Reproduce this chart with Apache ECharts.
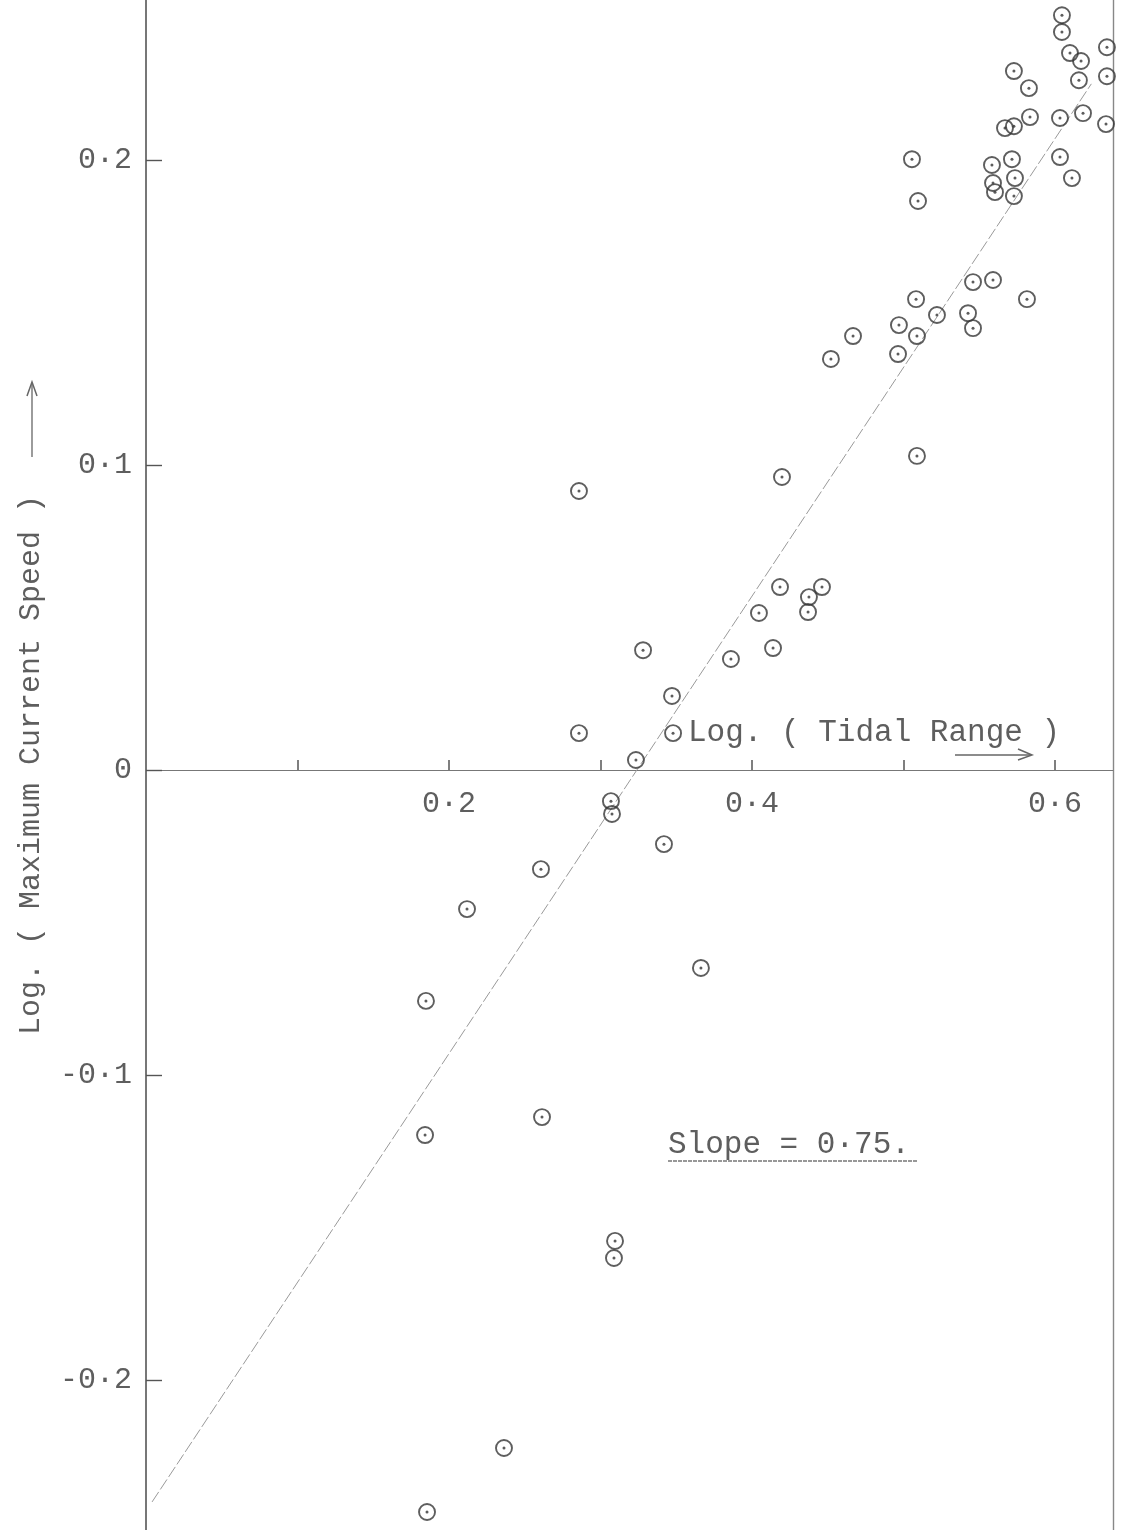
<!DOCTYPE html>
<html>
<head>
<meta charset="utf-8">
<title>Log. ( Maximum Current Speed ) against Log. ( Tidal Range )</title>
<script src="https://cdn.jsdelivr.net/npm/echarts@6/dist/echarts.min.js"></script>
<style>
  html, body { margin: 0; padding: 0; background: #ffffff; }
  #chart { width: 1124px; height: 1530px; }
</style>
</head>
<body>
<div id="chart"></div>
<script>
// Observations: log of tidal range (x) and log of maximum current speed (y)
const tidalRange = [
  0.6046, 0.6046, 0.6343, 0.6099, 0.6172, 0.5729, 0.6343, 0.6158, 0.5828, 0.5835,
  0.6033, 0.6185, 0.5670, 0.5729, 0.6337, 0.5056, 0.5716, 0.6033, 0.5584, 0.5736,
  0.6112, 0.5591, 0.5604, 0.5729, 0.5096, 0.5459, 0.5591, 0.5815, 0.5083, 0.5221,
  0.5426, 0.4970, 0.5089, 0.5459, 0.4667, 0.4964, 0.4521, 0.5089, 0.2858, 0.4198,
  0.4185, 0.4462, 0.4376, 0.4370, 0.4046, 0.3281, 0.4139, 0.3861, 0.3472, 0.2858,
  0.3479, 0.3234, 0.3069, 0.3076, 0.3419, 0.2607, 0.2119, 0.3663, 0.1848, 0.2614,
  0.1842, 0.3096, 0.3089, 0.2363, 0.1855
];
const currentSpeed = [
  0.2475, 0.2420, 0.2370, 0.2351, 0.2325, 0.2292, 0.2275, 0.2262, 0.2236, 0.2141,
  0.2138, 0.2154, 0.2105, 0.2111, 0.2118, 0.2003, 0.2003, 0.2010, 0.1984, 0.1941,
  0.1941, 0.1925, 0.1895, 0.1882, 0.1866, 0.1600, 0.1607, 0.1544, 0.1544, 0.1492,
  0.1498, 0.1459, 0.1423, 0.1449, 0.1423, 0.1364, 0.1348, 0.1030, 0.0915, 0.0961,
  0.0600, 0.0600, 0.0567, 0.0518, 0.0515, 0.0393, 0.0400, 0.0364, 0.0243, 0.0121,
  0.0121, 0.0033, -0.0102, -0.0144, -0.0243, -0.0325, -0.0456, -0.0649, -0.0757, -0.1138,
  -0.1197, -0.1544, -0.1600, -0.2223, -0.2433
];

// Fitted straight line
const fitSlope = 0.75;
const fitIntercept = -0.243;
const fitXRange = [0.004, 0.624];

// Axis ticks and their labels
const xTickValues = [0.1, 0.2, 0.3, 0.4, 0.5, 0.6];
const xLabelValues = [0.2, 0.4, 0.6];
const xTickLabels = ['0·2', '0·4', '0·6'];
const yTickValues = [-0.2, -0.1, 0, 0.1, 0.2];
const yTickLabels = ['-0·2', '-0·1', '0', '0·1', '0·2'];

const xTitle = 'Log. ( Tidal Range )';
const yTitle = 'Log. ( Maximum Current Speed )';

const points = tidalRange.map((x, i) => [x, currentSpeed[i]]);
const fitLine = fitXRange.map(x => [x, fitSlope * x + fitIntercept]);
const slopeText = 'Slope = ' + String(fitSlope).replace('.', '·') + '.';

function lookup(values, labels) {
  return v => {
    const i = values.findIndex(t => Math.abs(t - v) < 1e-6);
    return i >= 0 ? labels[i] : '';
  };
}

const FONT = '"Liberation Mono", "DejaVu Sans Mono", monospace';
const INK = '#5e5e5e';

const Y_MIN = -0.2492;
const Y_MAX = 0.2525;
const CHART_H = 1530;

const chart = echarts.init(document.getElementById('chart'), null, { renderer: 'canvas' });

// The x axis sits on y = 0: shift it up from the grid bottom by the height of the negative range.
const zeroOffset = -Math.round(CHART_H * (-Y_MIN) / (Y_MAX - Y_MIN));

chart.setOption({
  backgroundColor: '#ffffff',
  animation: false,
  grid: { left: 146, right: 11, top: 0, bottom: 0, containLabel: false, outerBoundsMode: 'none' },
  xAxis: {
    type: 'value',
    position: 'bottom',
    offset: zeroOffset,
    min: 0,
    max: 0.6383,
    splitLine: { show: false },
    axisLine: { show: true, onZero: false, lineStyle: { color: '#777', width: 1.2 } },
    axisTick: { show: true, inside: true, length: 10, customValues: xTickValues,
      lineStyle: { color: '#555', width: 1.5 } },
    axisLabel: { show: true, customValues: xLabelValues, formatter: lookup(xLabelValues, xTickLabels),
      margin: 19, fontFamily: FONT, fontSize: 30, color: INK }
  },
  yAxis: [
    {
      type: 'value',
      min: Y_MIN,
      max: Y_MAX,
      name: yTitle,
      nameLocation: 'middle',
      nameRotate: 90,
      nameGap: 100,
      nameTextStyle: { fontFamily: FONT, fontSize: 30, color: INK },
      splitLine: { show: false },
      axisLine: { show: true, onZero: false, lineStyle: { color: '#555', width: 1.6 } },
      axisTick: { show: true, inside: true, length: 16, customValues: yTickValues,
        lineStyle: { color: '#555', width: 1.4 } },
      axisLabel: { show: true, customValues: yTickValues, formatter: lookup(yTickValues, yTickLabels),
        margin: 14, fontFamily: FONT, fontSize: 30, color: INK }
    },
    {
      // right-hand border of the sheet
      type: 'value',
      position: 'right',
      min: Y_MIN,
      max: Y_MAX,
      splitLine: { show: false },
      axisLine: { show: true, onZero: false, lineStyle: { color: '#888', width: 1.4 } },
      axisTick: { show: false },
      axisLabel: { show: false }
    }
  ],
  series: [
    {
      type: 'line',
      data: fitLine,
      symbol: 'none',
      silent: true,
      z: 1,
      lineStyle: { color: '#9a9a9a', width: 1, type: [12, 3] }
    },
    {
      type: 'scatter',
      data: points,
      symbol: 'circle',
      symbolSize: 16,
      clip: true,
      z: 3,
      itemStyle: { color: 'rgba(0,0,0,0)', borderColor: '#363636', borderWidth: 1.9 }
    },
    {
      type: 'scatter',
      data: points,
      symbol: 'circle',
      symbolSize: 3,
      clip: true,
      z: 4,
      itemStyle: { color: '#333' }
    }
  ],
  graphic: [
    { type: 'text', left: 688, top: 717, z: 10,
      style: { text: xTitle, font: '31px ' + FONT, fill: INK } },
    // arrow under the x title
    { type: 'polyline', z: 10, shape: { points: [[955, 755], [1031, 755]] },
      style: { stroke: '#666', lineWidth: 1.3, fill: null } },
    { type: 'polyline', z: 10, shape: { points: [[1018, 749], [1032, 755], [1018, 760]] },
      style: { stroke: '#666', lineWidth: 1.5, fill: null } },
    // arrow above the y title
    { type: 'polyline', z: 10, shape: { points: [[32, 457], [32, 383]] },
      style: { stroke: '#666', lineWidth: 1.3, fill: null } },
    { type: 'polyline', z: 10, shape: { points: [[27, 396], [32, 382], [37, 396]] },
      style: { stroke: '#666', lineWidth: 1.5, fill: null } },
    // slope note, underlined
    { type: 'text', left: 668, top: 1129, z: 10,
      style: { text: slopeText, font: '31px ' + FONT, fill: INK } },
    { type: 'line', z: 10, shape: { x1: 668, y1: 1161, x2: 918, y2: 1161 },
      style: { stroke: '#777', lineWidth: 1.5, lineDash: [4, 1] } }
  ]
});
</script>
</body>
</html>
